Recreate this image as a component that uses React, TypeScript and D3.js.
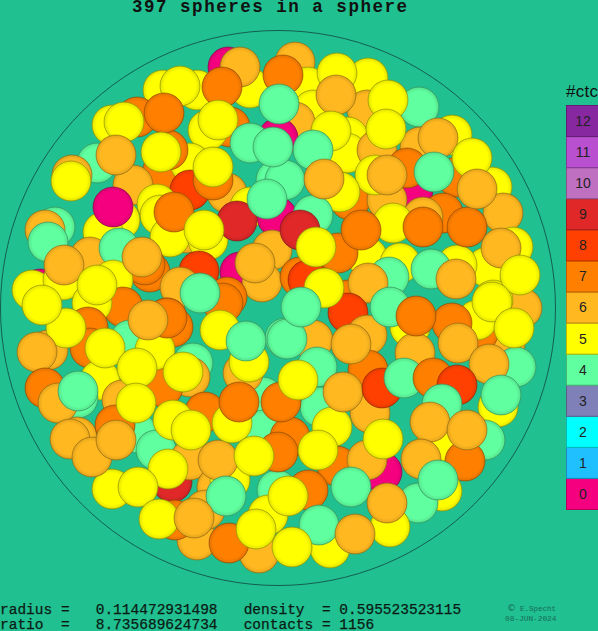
import React, { useEffect, useRef } from "react";
import * as d3 from "d3";

const ctcLevels = [0,1,2,3,4,5,6,7,8,9,10,11,12];
const ctcColors = ["#f5007f","#20c0ff","#00ffff","#8080b8","#60ffa0","#ffff00","#ffb820","#ff8000","#ff4000","#e02828","#c070c0","#b850d0","#8828a0"];
const titleText = "397 spheres in a sphere";
const footerLines = [
  "radius =   0.114472931498   density  = 0.595523523115",
  "ratio  =   8.735689624734   contacts = 1156",
];
const creditLines = ["E.Specht", "08-JUN-2024"];

// [x, y, contacts], back to front
const backSpheres: number[][] = [
  [228,67,0],[295,62,6],[163,90,5],[197,90,5],[250,88,5],[308,87,5],[368,78,5],[419,107,4],[313,110,5],[367,110,6],
  [137,117,7],[112,125,5],[230,127,7],[208,130,5],[295,122,6],[278,138,0],[348,137,5],[347,153,5],[377,150,6],
  [452,135,5],[420,147,6],[97,163,4],[163,170,7],[190,163,5],[168,150,7],[133,185,6],[72,175,6],[190,190,8],[227,193,6],
  [157,204,5],[160,215,5],[250,207,5],[276,180,4],[277,217,0],[55,227,4],[45,230,6],[120,220,5],[103,232,5],
  [492,187,5],[457,177,7],[413,190,0],[350,200,7],[387,200,6],[443,213,7],[423,217,6],[375,175,5],[340,192,5],[313,215,4],
  [522,308,6],[505,345,6],[478,333,7],[503,213,6],[487,267,5],[513,247,5],[367,257,5],[400,263,5],[457,265,5],[431,269,4],[389,277,4],[493,300,5],
  [187,233,6],[170,237,5],[208,240,5],[272,250,6],[90,257,6],[119,248,4],[150,272,7],[145,265,7],[199,271,8],[240,272,0],[262,282,6],
  [40,289,0],[32,290,5],[63,280,5],[113,280,5],[180,287,6],[227,297,7],[300,277,7],[308,280,8],[347,300,7],[368,283,6],
  [123,307,7],[92,303,5],[88,327,7],[167,318,7],[173,327,7],[147,332,4],[223,303,7],[90,348,7],[48,350,6],
  [348,313,8],[477,320,5],[452,323,7],[410,327,5],[367,335,6],[193,363,4],[190,377,6],[163,387,7],[100,380,5],[130,340,4],[155,350,5],
  [313,340,6],[285,338,4],[317,367,4],[516,367,4],[498,407,5],[368,370,7],[415,353,6],[263,397,4],[263,430,4],[243,373,6],[205,412,7],
  [122,400,6],[78,398,4],[77,437,6],[137,433,4],[156,450,4],[115,425,7],[172,482,9],[190,460,6],[217,487,6],[230,480,5],[277,490,4],
  [320,407,4],[370,413,6],[332,427,5],[290,437,7],[437,443,5],[485,440,4],[465,461,7],[382,472,0],[337,466,7],[442,491,5],[418,503,4],[308,490,7],[367,460,6],
  [112,489,5],[218,460,6],[197,540,6],[205,510,6],[390,527,5],[330,548,5],[268,515,5],[259,553,6],[229,543,7],[175,520,7],
];
const midSpheres: number[][] = [
  [240,67,6],[180,86,5],[222,87,7],[283,75,7],[337,73,5],[388,100,5],[336,95,6],[124,122,5],[164,113,7],[218,120,5],[250,143,4],
  [331,131,5],[386,129,5],[313,150,4],[438,138,6],[472,158,5],[407,168,7],[387,175,6],[285,180,4],[213,180,7],
  [71,181,5],[161,152,5],[213,167,5],[174,212,7],[237,221,9],[300,230,9],[338,253,7],[393,223,5],[361,230,7],[423,227,7],[467,227,7],
  [477,189,6],[501,248,6],[520,275,5],[456,279,6],[324,288,5],[492,302,5],[204,230,5],[48,242,4],[64,265,6],[142,257,6],[255,263,6],
  [105,348,5],[66,328,5],[37,352,6],[42,305,5],[97,285,5],[167,318,7],[148,320,6],[220,330,5],[249,362,5],[287,339,4],[137,368,5],[183,372,5],
  [45,388,7],[58,403,6],[78,391,4],[136,403,5],[173,420,5],[191,430,5],[232,423,5],[239,402,7],[281,402,7],[298,380,5],[343,392,6],
  [351,344,6],[390,307,4],[416,316,7],[458,343,6],[514,328,5],[489,364,6],[501,395,4],[382,388,8],[404,378,4],[433,378,7],[457,385,8],[442,404,4],[430,422,6],[467,430,6],
  [70,439,6],[92,457,6],[116,440,6],[168,469,5],[138,487,5],[226,496,4],[278,452,7],[254,456,5],[318,450,5],[351,487,4],[383,439,5],[421,459,6],[438,480,4],[387,503,6],
  [159,519,5],[194,518,6],[256,529,5],[288,496,5],[319,525,4],[355,534,6],[292,547,5],
];
const frontSpheres: number[][] = [
  [279,104,4],[116,155,6],[273,147,4],[267,199,4],[113,207,0],[316,247,5],[324,179,6],[434,172,4],[200,293,4],[301,307,4],[246,341,4],
];

const DISK_R = 20;
const GREEN_BG = "#20c090";

export default function App() {
  const ref = useRef<SVGSVGElement | null>(null);
  useEffect(() => {
    const svg = d3.select(ref.current);
    svg.selectAll("*").remove();
    const x = d3.scaleLinear().domain([0, 556]).range([0, 556]);
    const y = d3.scaleLinear().domain([30, 586]).range([30, 586]);
    const legendY = d3.scaleBand<number>().domain([...ctcLevels].reverse()).range([105.5, 509.5]);

    svg.append("rect").attr("width", 598).attr("height", 631).attr("fill", GREEN_BG);

    const defs = svg.append("defs");
    ctcColors.forEach((c, i) => {
      const g = defs.append("radialGradient").attr("id", `s${i}`);
      const base = d3.color(c)!;
      g.append("stop").attr("offset", "0.78").attr("stop-color", c);
      g.append("stop").attr("offset", "0.95").attr("stop-color", base.darker(0.25).formatHex());
      g.append("stop").attr("offset", "1").attr("stop-color", base.darker(0.7).formatHex());
    });

    svg.append("circle").attr("cx", x(278)).attr("cy", y(308)).attr("r", 277.5)
      .attr("fill", "none").attr("stroke", "#145f50").attr("stroke-width", 1);

    const spheres = [...backSpheres, ...midSpheres, ...frontSpheres];
    svg.append("g").selectAll("circle").data(spheres).join("circle")
      .attr("cx", (d) => x(d[0])).attr("cy", (d) => y(d[1])).attr("r", DISK_R)
      .attr("fill", (d) => `url(#s${d[2]})`)
      .attr("stroke", (d) => d3.color(ctcColors[d[2]])!.darker(1.6).formatHex())
      .attr("stroke-opacity", 0.75).attr("stroke-width", 0.8);

    const leg = svg.append("g");
    leg.selectAll("rect").data(ctcLevels).join("rect")
      .attr("x", 566.5).attr("y", (d) => legendY(d)!).attr("width", 40).attr("height", legendY.bandwidth())
      .attr("fill", (d) => ctcColors[d])
      .attr("stroke", (d) => d3.color(ctcColors[d])!.darker(0.9).formatHex()).attr("stroke-width", 1);
    leg.selectAll("text").data(ctcLevels).join("text")
      .attr("x", 583).attr("y", (d) => legendY(d)! + 20.5).attr("text-anchor", "middle")
      .attr("font-family", "Liberation Sans").attr("font-size", 14).attr("fill", "#222")
      .text((d) => d);
    svg.append("text").attr("x", 566).attr("y", 97).attr("font-family", "Liberation Sans")
      .attr("font-size", 17).attr("textLength", 32).attr("fill", "#111").text("#ctc");

    svg.append("text").attr("x", 132).attr("y", 12).attr("font-family", "Liberation Mono")
      .attr("font-size", 17.5).attr("textLength", 275).attr("lengthAdjust", "spacing")
      .attr("font-weight", "bold").attr("fill", "#111").text(titleText);

    svg.selectAll("text.foot").data(footerLines).join("text").attr("class", "foot")
      .attr("x", 0).attr("y", (_, i) => 614 + i * 15).attr("font-family", "Liberation Mono")
      .attr("font-size", 14.5).attr("fill", "#0c1a14").attr("stroke", "#0c1a14").attr("stroke-width", 0.25)
      .style("white-space", "pre").text((d) => d);

    svg.append("text").attr("x", 507).attr("y", 611).attr("font-family", "DejaVu Sans")
      .attr("font-size", 9).attr("fill", "#176b58").text("©");
    svg.append("text").attr("x", 520).attr("y", 611).attr("font-family", "Liberation Mono")
      .attr("font-size", 7.5).attr("fill", "#176b58").text(creditLines[0]);
    svg.append("text").attr("x", 505).attr("y", 621).attr("font-family", "Liberation Mono")
      .attr("font-size", 7.8).attr("fill", "#176b58").text(creditLines[1]);
  }, []);
  return <svg ref={ref} width={598} height={631} style={{ position: "absolute", left: 0, top: 0, display: "block" }} />;
}
